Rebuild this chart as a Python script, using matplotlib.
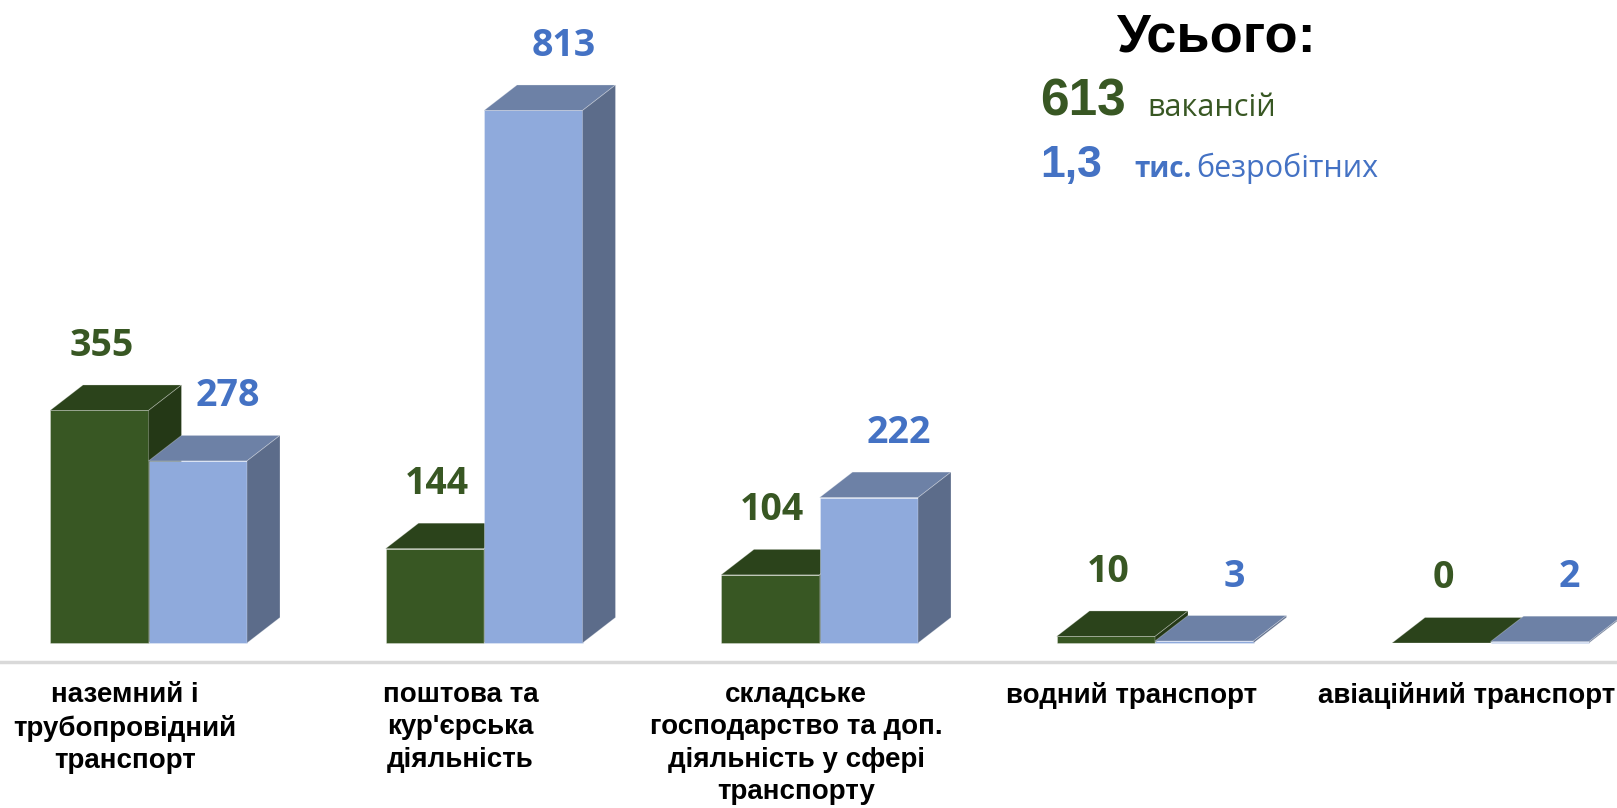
import matplotlib.pyplot as plt
from matplotlib.patches import Polygon

# data
categories = ["наземний і\nтрубопровідний\nтранспорт",
              "поштова та\nкур'єрська\nдіяльність",
              "складське\nгосподарство та доп.\nдіяльність у сфері\nтранспорту",
              "водний транспорт",
              "авіаційний транспорт"]
vacancies = [355, 144, 104, 10, 0]
unemployed = [278, 813, 222, 3, 2]

total_vac = "613"
total_unemp = "1,3"

green = "#385723"
green_top = "#2b431b"
green_side = "#243816"
blue = "#8faadc"
blue_top = "#6d81a6"
blue_side = "#5c6c8a"
green_txt = "#385723"
blue_txt = "#4472c4"

W, H = 1617, 808
fig = plt.figure(figsize=(W / 100, H / 100), dpi=100)
ax = fig.add_axes([0, 0, 1, 1])

# pixel layout -> data scales
gap_px = 335.5       # distance between groups
bar_px = 98.5        # width of one bar front
y_scale = 0.655      # pixels per unit
base_px = 643        # baseline from top
first_px = 148.5     # shared edge of first group

ax.set_xlim(-first_px / gap_px, (W - first_px) / gap_px)
ax.set_ylim(-(H - base_px) / y_scale, base_px / y_scale)
ax.set_axis_off()

w = bar_px / gap_px
ddx = 33 / gap_px      # depth offsets
ddy = 25.5 / y_scale


def box(x0, v, front, top, side, z):
    ax.bar(x0, v, width=w, align="edge", color=front, zorder=z,
           edgecolor=(1, 1, 1, 0.35), linewidth=0.6)
    ax.add_patch(Polygon([(x0, v), (x0 + ddx, v + ddy), (x0 + w + ddx, v + ddy), (x0 + w, v)],
                         closed=True, facecolor=top, edgecolor=(1, 1, 1, 0.3), linewidth=0.6, zorder=z))
    ax.add_patch(Polygon([(x0 + w, 0), (x0 + w + ddx, ddy), (x0 + w + ddx, v + ddy), (x0 + w, v)],
                         closed=True, facecolor=side, edgecolor=(1, 1, 1, 0.3), linewidth=0.6, zorder=z))


for i in range(len(categories)):
    box(i - w, vacancies[i], green, green_top, green_side, 2 + i * 2)
    box(i, unemployed[i], blue, blue_top, blue_side, 3 + i * 2)

    ax.annotate(str(vacancies[i]), (i - w / 2, vacancies[i] + ddy), xytext=(2, 29),
                textcoords="offset pixels", ha="center", va="baseline",
                fontsize=27, fontweight="bold", color=green_txt, family="Open Sans", zorder=20)
    ax.annotate(str(unemployed[i]), (i + w / 2, unemployed[i] + ddy), xytext=(30, 29),
                textcoords="offset pixels", ha="center", va="baseline",
                fontsize=27, fontweight="bold", color=blue_txt, family="Open Sans", zorder=20)

    ax.text(i - 0.07, -(682 - base_px) / y_scale, categories[i], ha="center", va="top",
            fontsize=20, fontweight="bold", family="Liberation Sans", linespacing=1.32)

# axis line
ax.axhline(-(662 - base_px) / y_scale, color="#d9d9d9", lw=2.5, zorder=1)

# totals block
fig.text(1217 / W, 1 - 52 / H, "Усього:", ha="center", va="baseline",
         fontsize=39, fontweight="bold", family="Liberation Sans")
fig.text(1040 / W, 1 - 116 / H, total_vac, ha="left", va="baseline",
         fontsize=37, fontweight="bold", family="Liberation Sans", color=green_txt)
fig.text(1147 / W, 1 - 116 / H, "вакансій", ha="left", va="baseline",
         fontsize=22, family="Open Sans", color=green_txt)
fig.text(1040 / W, 1 - 177 / H, total_unemp, ha="left", va="baseline",
         fontsize=32, fontweight="bold", family="Liberation Sans", color=blue_txt)
fig.text(1134 / W, 1 - 177 / H, "тис.", ha="left", va="baseline",
         fontsize=20, fontweight="bold", family="Open Sans", color=blue_txt)
fig.text(1196 / W, 1 - 177 / H, "безробітних", ha="left", va="baseline",
         fontsize=22, family="Open Sans", color=blue_txt)

fig.savefig("out.png", dpi=100, facecolor="white")
